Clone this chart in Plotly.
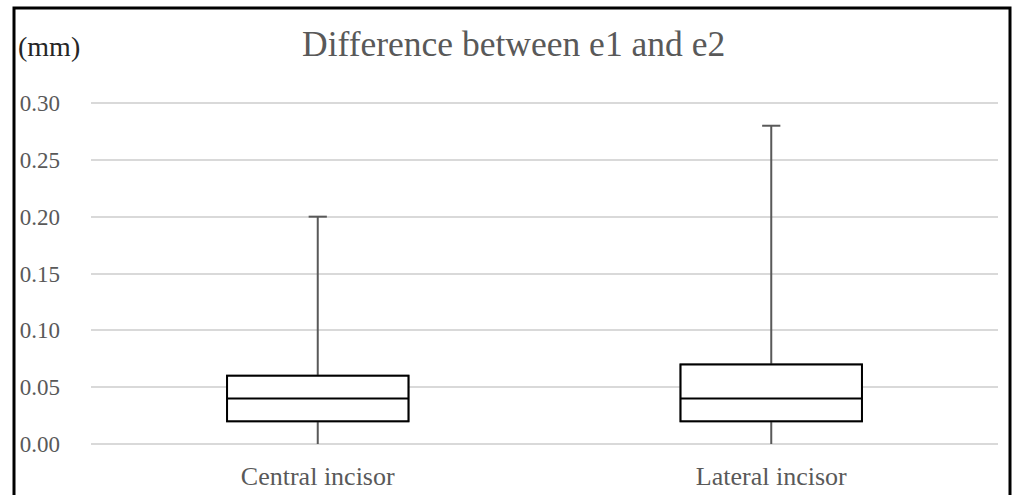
import plotly.graph_objects as go

categories = ["Central incisor", "Lateral incisor"]
lower = [0.00, 0.00]
q1 = [0.02, 0.02]
median = [0.04, 0.04]
q3 = [0.06, 0.07]
upper = [0.20, 0.28]
y_ticks = [0.00, 0.05, 0.10, 0.15, 0.20, 0.25, 0.30]
y_tick_labels = ["0.00", "0.05", "0.10", "0.15", "0.20", "0.25", "0.30"]

FONT = "Liberation Serif"
W, H = 1017, 495
PAD = 0.00264
L, R, T, B = 91, 19, 100, 48

fig = go.Figure()
# whiskers (gray)
fig.add_trace(go.Box(
    x=categories, q1=q1, median=median, q3=q3,
    lowerfence=lower, upperfence=upper,
    fillcolor="white", line=dict(color="#595959", width=2),
    width=0.4, whiskerwidth=0, boxpoints=False, hoverinfo="skip",
    showlegend=False,
))
# top whisker caps
fig.add_trace(go.Scatter(
    x=categories, y=upper, mode="markers",
    marker=dict(symbol="line-ew", size=13, line=dict(color="#595959", width=2)),
    hoverinfo="skip", showlegend=False,
))
# box (black) on top
fig.add_trace(go.Box(
    x=categories, q1=q1, median=median, q3=q3,
    lowerfence=q1, upperfence=q3,
    fillcolor="white", line=dict(color="black", width=2),
    width=0.4, whiskerwidth=0, boxpoints=False,
    showlegend=False,
))

pw = W - L - R
ph = H - T - B
def px_x(p):
    return (p - L) / pw
def px_y(p):
    return (H - B - p) / ph

fig.update_layout(
    width=W, height=H,
    margin=dict(l=L, r=R, t=T, b=B, autoexpand=False),
    paper_bgcolor="white", plot_bgcolor="white",
    boxmode="overlay",
    showlegend=False,
    font=dict(family=FONT, color="#595959"),
    xaxis=dict(
        range=[-0.5, 1.5], automargin=False,
        showgrid=False, showline=False, zeroline=False, ticks="",
        tickfont=dict(size=26, color="#595959", family=FONT),
        ticklabelstandoff=11,
    ),
    yaxis=dict(
        range=[-PAD, 0.30 + PAD], automargin=False,
        tickvals=y_ticks, ticktext=y_tick_labels,
        showgrid=True, gridcolor="#d9d9d9", gridwidth=1.5,
        zeroline=False, showline=False, ticks="",
        tickfont=dict(size=23, color="#595959", family=FONT),
        ticklabelstandoff=30,
    ),
    annotations=[
        dict(text="Difference between e1 and e2", xref="paper", yref="paper",
             x=px_x(513), y=px_y(44), xanchor="center", yanchor="middle",
             showarrow=False, font=dict(size=35.5, color="#595959", family=FONT)),
        dict(text="(mm)", xref="paper", yref="paper",
             x=px_x(16), y=px_y(47), xanchor="left", yanchor="middle",
             showarrow=False, font=dict(size=28, color="#262626", family=FONT)),
    ],
    shapes=[
        dict(type="rect", xref="paper", yref="paper",
             x0=px_x(14), x1=px_x(1010), y0=px_y(505), y1=px_y(8),
             line=dict(color="black", width=3), fillcolor="rgba(0,0,0,0)", layer="above"),
    ],
)

fig.write_html("out.html", config={"displayModeBar": False},
               post_script="document.body.style.margin='0px';")
